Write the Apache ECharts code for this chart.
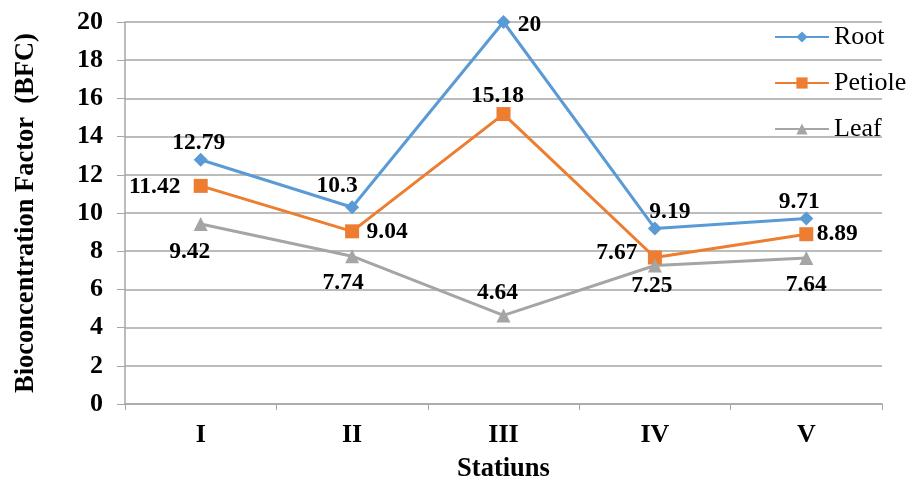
<!DOCTYPE html>
<html>
<head>
<meta charset="utf-8">
<script src="https://cdn.jsdelivr.net/npm/echarts@6/dist/echarts.min.js"></script>
<style>
html,body{margin:0;padding:0;background:#fff;}
#chart{width:909px;height:481px;}
</style>
</head>
<body>
<div id="chart"></div>
<script>
const categories = ['I', 'II', 'III', 'IV', 'V'];
const rootValues = [12.79, 10.3, 20, 9.19, 9.71];
const petioleValues = [11.42, 9.04, 15.18, 7.67, 8.89];
const leafValues = [9.42, 7.74, 4.64, 7.25, 7.64];
const yTicks = { min: 0, max: 20, interval: 2 };

// label offsets (style only)
const rootLabelOffsets = [[-2,-17],[-15,-21],[26,3],[15,-17],[-7,-17]];
const petioleLabelOffsets = [[-46,1],[35,1],[-6,-18],[-38,-5],[31,0]];
const leafLabelOffsets = [[-11,28],[-9,27],[-6,-22],[-3,20],[0,27]];

const FONT = '"Liberation Serif", "Times New Roman", serif';

function mkData(values, offsets) {
  return values.map((v, i) => ({
    value: v,
    label: { offset: offsets[i] }
  }));
}

function mkSeries(name, values, offsets, color, symbol, size) {
  return {
    name: name,
    type: 'line',
    data: mkData(values, offsets),
    symbol: symbol,
    symbolSize: size,
    showAllSymbol: true,
    lineStyle: { color: color, width: 3 },
    itemStyle: { color: color },
    label: {
      show: true,
      position: 'inside',
      align: 'center',
      verticalAlign: 'middle',
      fontFamily: FONT,
      fontWeight: 'bold',
      fontSize: 23.5,
      color: '#000'
    },
    emphasis: { disabled: true },
    animation: false
  };
}

const chart = echarts.init(document.getElementById('chart'), null, { renderer: 'canvas' });
chart.setOption({
  backgroundColor: '#fff',
  animation: false,
  grid: { left: 125, right: 27, top: 22, bottom: 77, containLabel: false, outerBoundsMode: 'none' },
  legend: {
    orient: 'vertical',
    left: 769,
    top: 19,
    itemWidth: 54,
    itemHeight: 14,
    itemGap: 20,
    textStyle: { fontFamily: FONT, fontSize: 26, color: '#000' },
    data: ['Root', 'Petiole', 'Leaf']
  },
  xAxis: {
    type: 'category',
    data: categories,
    boundaryGap: true,
    name: 'Statiuns',
    nameLocation: 'middle',
    nameGap: 52,
    nameTextStyle: { fontFamily: FONT, fontWeight: 'bold', fontSize: 26.5, color: '#000' },
    axisLine: { lineStyle: { color: '#a6a6a6', width: 1.5 } },
    axisTick: { show: true, length: 6, lineStyle: { color: '#a6a6a6' } },
    axisLabel: { fontFamily: FONT, fontWeight: 'bold', fontSize: 26, color: '#000', margin: 18 },
    splitLine: { show: false }
  },
  yAxis: {
    type: 'value',
    min: yTicks.min,
    max: yTicks.max,
    interval: yTicks.interval,
    name: 'Bioconcentration Factor  (BFC)',
    nameLocation: 'middle',
    nameGap: 85,
    nameTextStyle: { fontFamily: FONT, fontWeight: 'bold', fontSize: 26.5, color: '#000' },
    axisLine: { show: true, lineStyle: { color: '#a6a6a6', width: 1.5 } },
    axisTick: { show: true, length: 8, lineStyle: { color: '#a6a6a6' } },
    axisLabel: { fontFamily: FONT, fontWeight: 'bold', fontSize: 26, color: '#000', margin: 22 },
    splitLine: { show: true, lineStyle: { color: '#a6a6a6', width: 1.5 } }
  },
  series: [
    mkSeries('Root', rootValues, rootLabelOffsets, '#5B9BD5', 'diamond', 14),
    mkSeries('Petiole', petioleValues, petioleLabelOffsets, '#ED7D31', 'rect', 14),
    mkSeries('Leaf', leafValues, leafLabelOffsets, '#A5A5A5', 'triangle', 14)
  ]
});
</script>
</body>
</html>
